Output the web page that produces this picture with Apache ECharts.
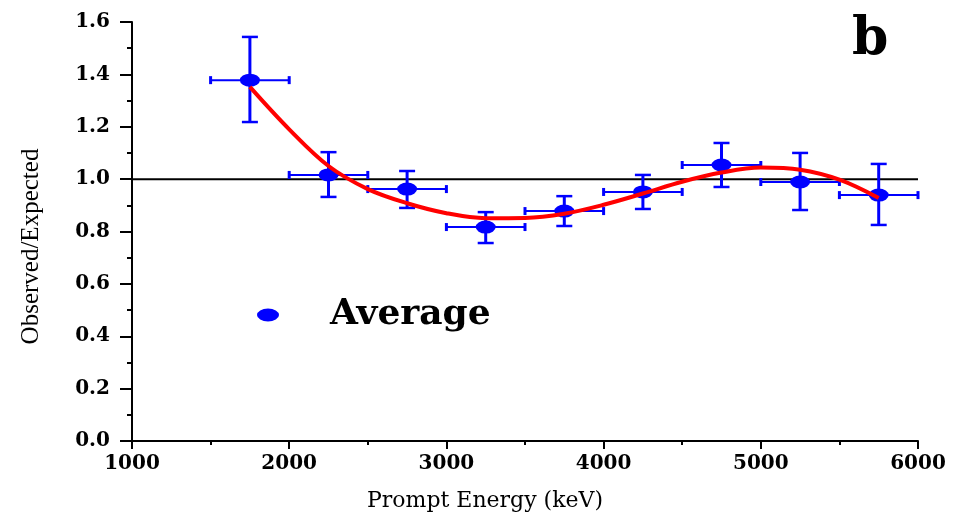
<!DOCTYPE html>
<html>
<head>
<meta charset="utf-8">
<script src="https://cdn.jsdelivr.net/npm/echarts@6/dist/echarts.min.js"></script>
<style>
  html, body { margin: 0; padding: 0; background: #ffffff; }
  #chart { width: 956px; height: 520px; }
</style>
</head>
<body>
<div id="chart"></div>
<script>
// Energy bins (keV): centre, lower and upper edge
const binCentre = [1750, 2250, 2750, 3250, 3750, 4250, 4750, 5250, 5750];
const binLow    = [1500, 2000, 2500, 3000, 3500, 4000, 4500, 5000, 5500];
const binHigh   = [2000, 2500, 3000, 3500, 4000, 4500, 5000, 5500, 6000];

// Observed/Expected ratio with its uncertainty band
const ratio     = [1.378, 1.016, 0.962, 0.817, 0.878, 0.951, 1.054, 0.989, 0.939];
const ratioLow  = [1.218, 0.932, 0.890, 0.756, 0.821, 0.886, 0.970, 0.882, 0.825];
const ratioHigh = [1.543, 1.103, 1.031, 0.874, 0.935, 1.016, 1.138, 1.100, 1.058];

// Fitted curve through the averaged points
const fitEnergy = [1750, 2000, 2250, 2500, 2750, 3000, 3250, 3500, 3750, 4000, 4250, 4500, 4750, 5000, 5250, 5500, 5750];
const fitRatio  = [1.352, 1.19, 1.05, 0.962, 0.908, 0.870, 0.851, 0.852, 0.868, 0.902, 0.945, 0.99, 1.025, 1.044, 1.036, 0.998, 0.928];

// Reference level (observed = expected)
const refEnergy = [1000, 6000];
const refRatio  = [1.0, 1.0];

const serif = 'Liberation Serif';
const wideSerif = 'DejaVu Serif';
const ellipse = 'path://M-1,0A1,1,0,1,0,1,0A1,1,0,1,0,-1,0Z';

const points = binCentre.map((x, i) => [x, ratio[i]]);
const bars = binCentre.map((x, i) => [x, ratio[i], binLow[i], binHigh[i], ratioLow[i], ratioHigh[i]]);
const fit = fitEnergy.map((x, i) => [x, fitRatio[i]]);
const ref = refEnergy.map((x, i) => [x, refRatio[i]]);

function renderErrorBar(params, api) {
  const x = api.value(0), y = api.value(1);
  const c = api.coord([x, y]);
  const top = api.coord([x, api.value(5)]);
  const bot = api.coord([x, api.value(4)]);
  const left = api.coord([api.value(2), y]);
  const right = api.coord([api.value(3), y]);
  const capW = 8, capH = 4;
  const blue = '#0000ff';
  const seg = (x1, y1, x2, y2, w) => ({
    type: 'line',
    shape: { x1: x1, y1: y1, x2: x2, y2: y2 },
    style: { stroke: blue, lineWidth: w }
  });
  return {
    type: 'group',
    children: [
      seg(c[0], top[1], c[0], bot[1], 3),
      seg(c[0] - capW, top[1], c[0] + capW, top[1], 2.5),
      seg(c[0] - capW, bot[1], c[0] + capW, bot[1], 2.5),
      seg(left[0], c[1], right[0], c[1], 2),
      seg(left[0], c[1] - capH, left[0], c[1] + capH, 3),
      seg(right[0], c[1] - capH, right[0], c[1] + capH, 3)
    ]
  };
}

const chart = echarts.init(document.getElementById('chart'), null, { renderer: 'canvas' });

chart.setOption({
  animation: false,
  backgroundColor: '#ffffff',
  grid: { left: 132, right: 38, top: 22, bottom: 79, containLabel: false },
  xAxis: {
    type: 'value',
    min: 1000, max: 6000, interval: 1000,
    name: 'Prompt Energy (keV)',
    nameLocation: 'middle',
    nameGap: 49,
    nameTextStyle: { fontFamily: wideSerif, fontSize: 22, color: '#000', padding: [0, 80, 0, 0] },
    axisLine: { show: true, onZero: false, lineStyle: { color: '#000', width: 2 } },
    axisTick: { show: true, inside: false, length: 8, lineStyle: { color: '#000', width: 2 } },
    minorTick: { show: true, splitNumber: 2, length: 4, lineStyle: { color: '#000', width: 2 } },
    axisLabel: {
      fontFamily: wideSerif, fontWeight: 'bold', fontSize: 20, color: '#000', margin: 13,
      formatter: v => String(v)
    },
    splitLine: { show: false }
  },
  yAxis: {
    type: 'value',
    min: 0, max: 1.6, interval: 0.2,
    name: 'Observed/Expected',
    nameLocation: 'middle',
    nameGap: 88,
    nameTextStyle: { fontFamily: serif, fontSize: 25, color: '#000', padding: [0, 30, 0, 0] },
    axisLine: { show: true, onZero: false, lineStyle: { color: '#000', width: 2 } },
    axisTick: { show: true, inside: false, length: 12, lineStyle: { color: '#000', width: 2 } },
    minorTick: { show: true, splitNumber: 2, length: 5, lineStyle: { color: '#000', width: 2 } },
    axisLabel: {
      fontFamily: wideSerif, fontWeight: 'bold', fontSize: 20, color: '#000', margin: 22,
      formatter: v => v.toFixed(1)
    },
    splitLine: { show: false }
  },
  legend: {
    data: ['Average'],
    left: 252, top: 292,
    icon: ellipse,
    symbolKeepAspect: false,
    itemWidth: 22, itemHeight: 13,
    textStyle: { fontFamily: wideSerif, fontWeight: 'bold', fontSize: 36, color: '#000', padding: [0, 0, 0, 46] }
  },
  graphic: [{
    type: 'text',
    left: 852, top: 14,
    style: { text: 'b', fontFamily: wideSerif, fontWeight: 'bold', fontSize: 52, fill: '#000' }
  }],
  series: [
    {
      type: 'line',
      data: ref,
      symbol: 'none',
      lineStyle: { color: '#000', width: 2 },
      silent: true,
      z: 1
    },
    {
      type: 'custom',
      renderItem: renderErrorBar,
      data: bars,
      encode: { x: 0, y: 1 },
      silent: true,
      z: 2
    },
    {
      name: 'Average',
      type: 'scatter',
      data: points,
      symbol: ellipse,
      symbolSize: [20, 13],
      itemStyle: { color: '#0000ff', opacity: 1 },
      z: 3
    },
    {
      type: 'line',
      data: fit,
      smooth: 0.35,
      symbol: 'none',
      lineStyle: { color: '#ff0000', width: 4 },
      silent: true,
      z: 4
    }
  ]
});
</script>
</body>
</html>
